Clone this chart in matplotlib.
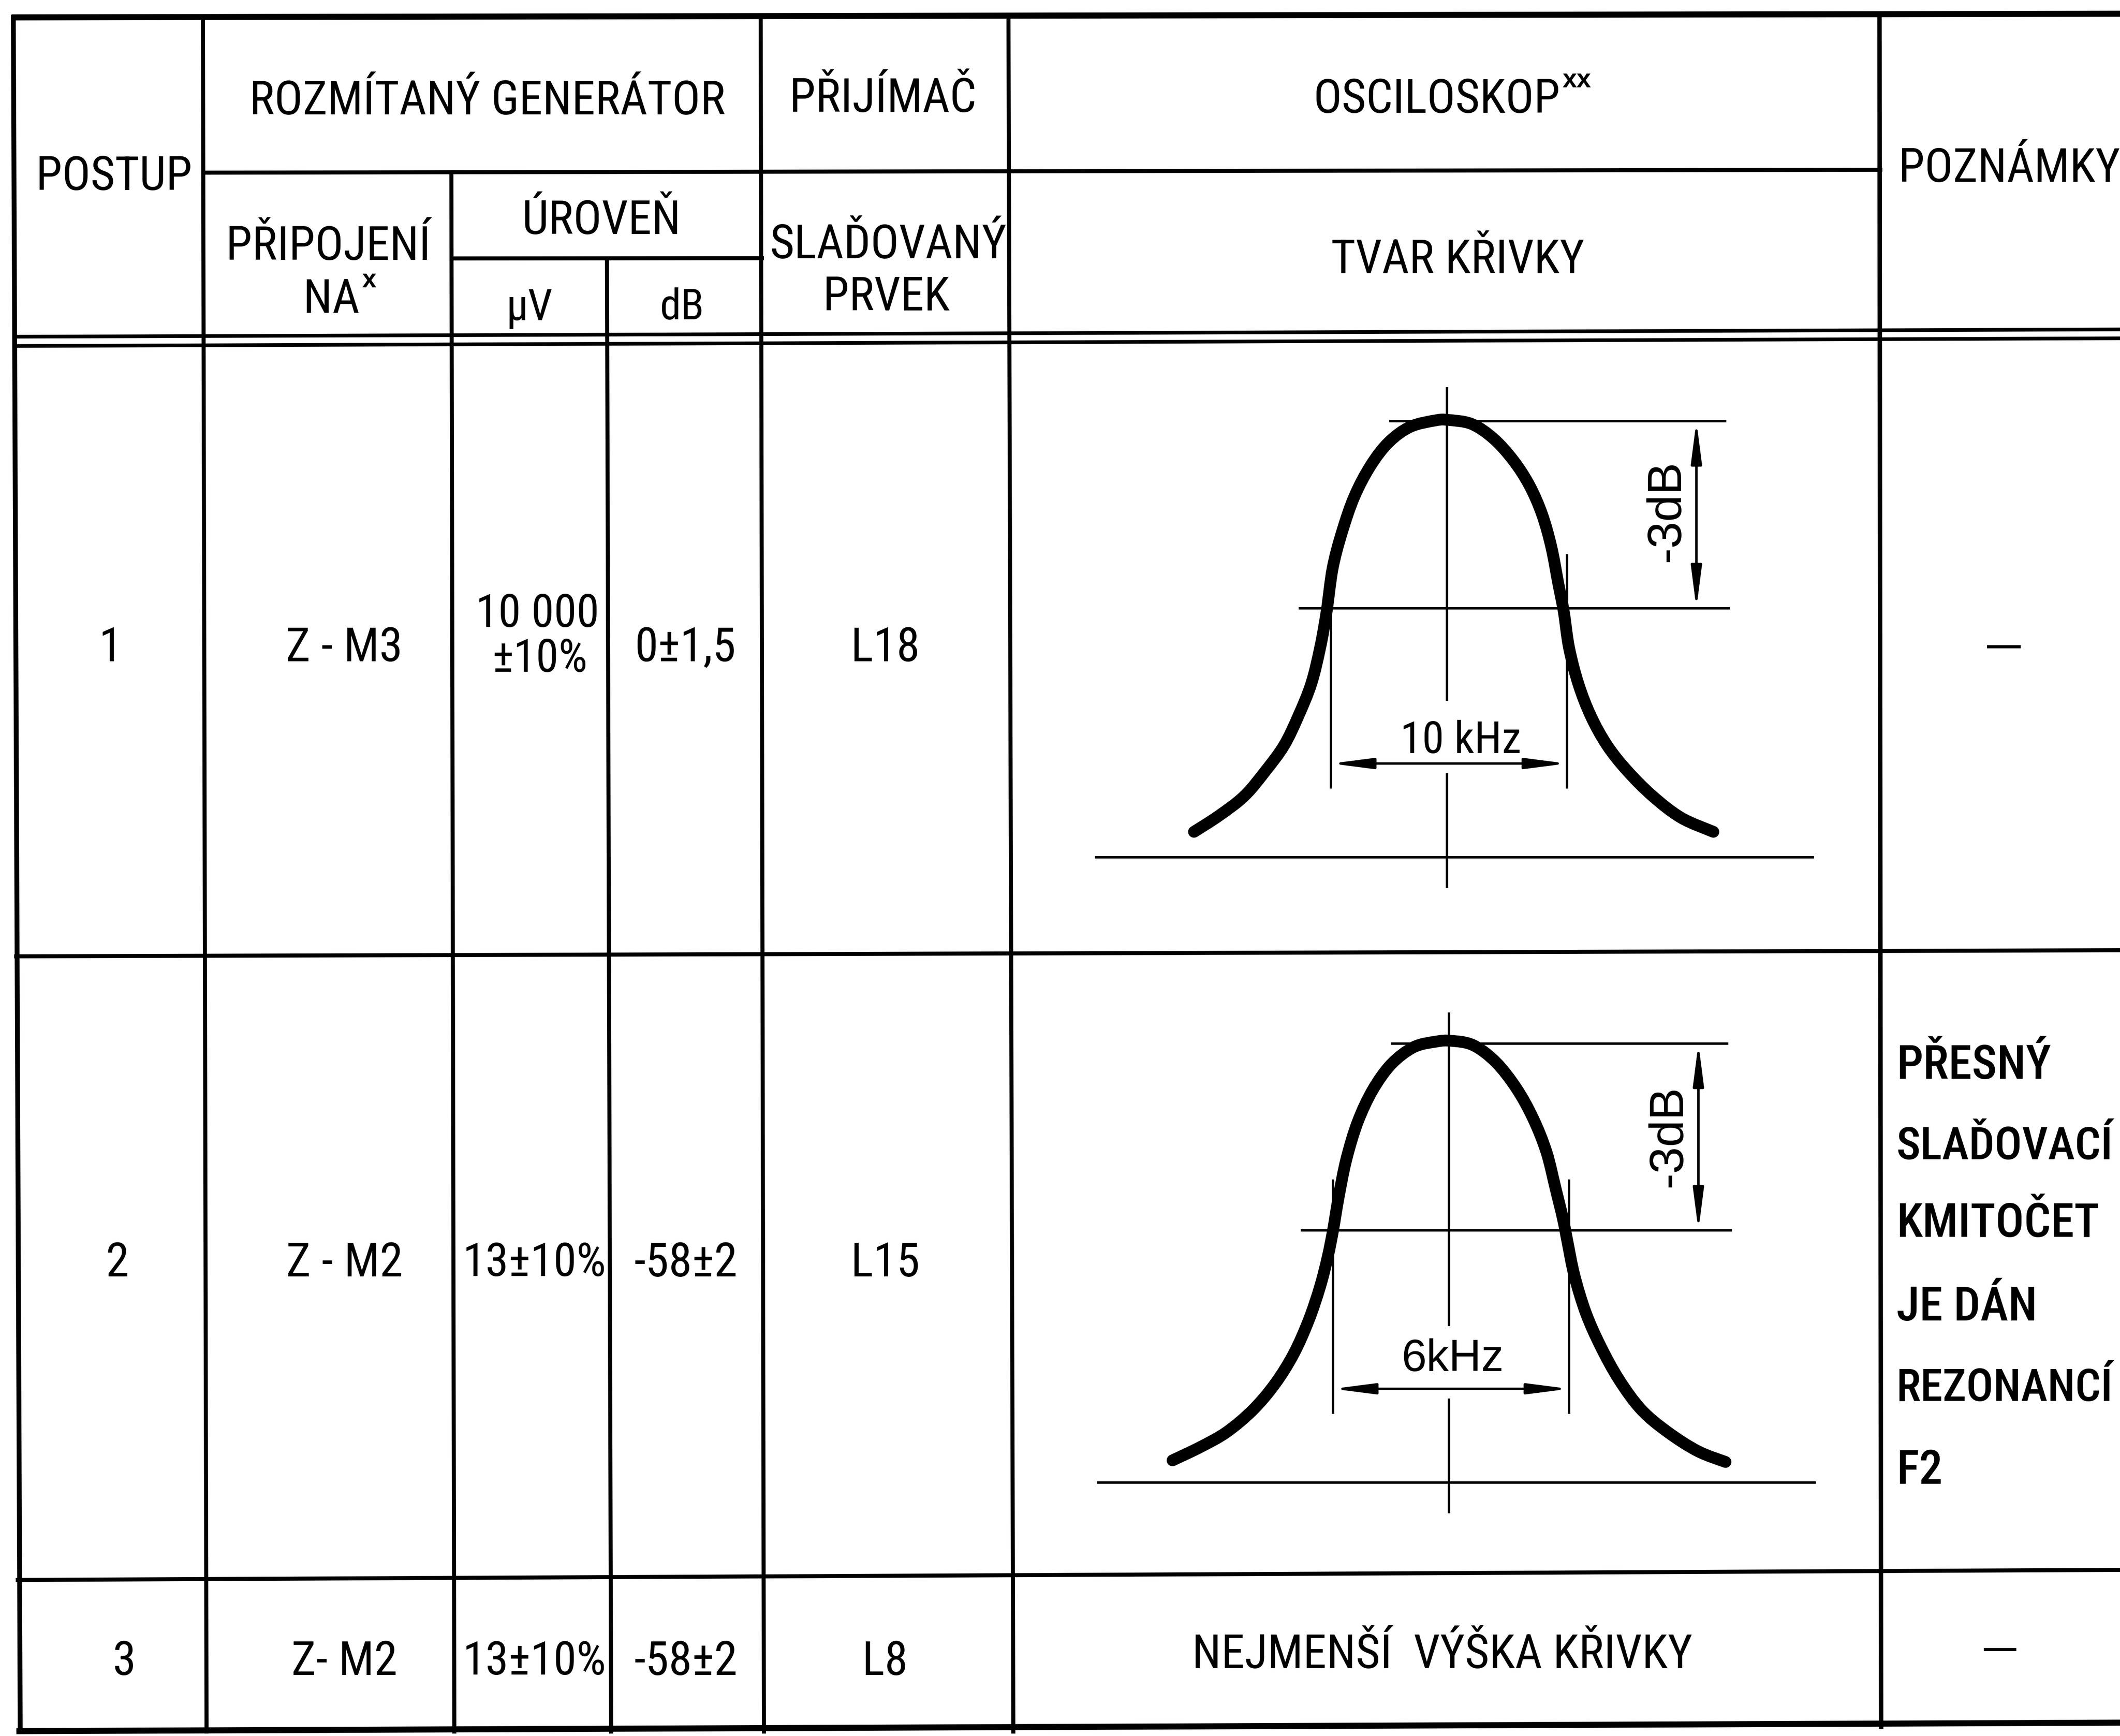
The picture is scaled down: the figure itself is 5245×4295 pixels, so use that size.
import matplotlib
matplotlib.use("Agg")
import matplotlib.pyplot as plt
import numpy as np
from matplotlib.patches import FancyArrowPatch, PathPatch
from matplotlib.path import Path

# ---------------- table content ----------------
head_top = ["ROZMÍTANÝ GENERÁTOR", "PŘIJÍMAČ", "OSCILOSKOP"]
head_sub = ["PŘIPOJENÍ", "NA", "ÚROVEŇ", "μV", "dB", "SLAĎOVANÝ", "PRVEK", "TVAR KŘIVKY"]

steps = ["1", "2", "3"]
connections = ["Z - M3", "Z - M2", "Z- M2"]
level_uv = [["10 000", "±10%"], ["13±10%"], ["13±10%"]]
level_db = ["0±1,5", "-58±2", "-58±2"]
tuned = ["L18", "L15", "L8"]
remarks2 = ["PŘESNÝ", "SLAĎOVACÍ", "KMITOČET", "JE DÁN", "REZONANCÍ", "F2"]
scope_row3 = "NEJMENŠÍ  VÝŠKA KŘIVKY"
bandwidths = ["10 kHz", "6kHz"]

# curve shapes read off the two sketches:
# offset from the centre line / height above the base line (drawing px)
curve1_dx = [-626, -564, -501, -448, -403, -368, -336, -314, -298, -283, -260, -229, -189, -144, -91, -28, 3,
             61, 115, 164, 204, 235, 258, 275, 289, 302, 325, 356, 396, 445, 508, 579, 659]
curve1_h = [63, 103, 152, 215, 277, 349, 429, 518, 607, 715, 804, 893, 969, 1027, 1065, 1081, 1082,
            1072, 1036, 982, 920, 849, 768, 679, 607, 518, 429, 349, 277, 215, 152, 98, 63]
curve2_dx = [-684, -615, -550, -485, -430, -384, -347, -319, -300, -287, -273, -254, -226, -189, -143, -88, -32, 5,
             60, 116, 167, 208, 241, 264, 282, 293, 310, 338, 375, 421, 476, 541, 615, 684]
curve2_h = [55, 88, 125, 180, 245, 319, 402, 485, 559, 624, 707, 800, 892, 971, 1035, 1077, 1091, 1093,
            1082, 1040, 975, 901, 818, 726, 652, 596, 513, 421, 337, 254, 180, 125, 78, 51]

# ---------------- figure ----------------
W, H, DPI = 5245, 4295, 100
PX = 72 / DPI          # points per pixel
fig = plt.figure(figsize=(W / DPI, H / DPI), dpi=DPI)
ax = fig.add_axes([0, 0, 1, 1])
ax.set_xlim(0, W)
ax.set_ylim(H, 0)
ax.axis("off")
renderer = fig.canvas.get_renderer()

FONT = ["Roboto Condensed", "Noto Sans Condensed", "Noto Sans SemiCondensed", "DejaVu Sans Condensed",
        "Liberation Sans Narrow", "Liberation Sans", "DejaVu Sans"]
WIDE = ["Liberation Sans", "DejaVu Sans"]
CAP = 0.716

# one common letter size: the scan uses a narrow lettering, so scale the size
# so that the widest heading keeps its width
_probe = ax.text(0, 0, head_top[0], fontsize=80, family=FONT)
BASE = min(84.0, 80.0 * 1202 / _probe.get_window_extent(renderer).width)
_probe.remove()


def label(x, yc, s, rel=1.0, ha="center", width=None, family=FONT, size=None, **kw):
    # yc is the middle of the capitals; width is the room left before a line / the edge
    size = size or BASE * rel
    t = ax.text(x, yc, s, fontsize=size, ha=ha, va="baseline", family=family, color="black", **kw)
    if width:
        w = t.get_window_extent(renderer).width
        if w > width:
            size = size * width / w
            t.set_fontsize(size)
    t.set_y(yc + CAP * size / PX / 2)
    return t


def sup(artist, s, size=46):
    ax.annotate(s, xy=(1.0, 1.0), xycoords=artist, xytext=(4, 16), textcoords="offset points",
                ha="left", va="top", fontsize=size, fontweight="bold", family=WIDE)


# the scan is slightly skewed, so lines are given by both ends
def vline(xt, xb, y0, y1, lw=10):
    f = lambda y: xt + (xb - xt) * (y - 40) / 4240
    ax.plot([f(y0), f(y1)], [y0, y1], color="k", lw=lw * PX, solid_capstyle="projecting")


def hline(yl, yr, x0, x1, lw=10):
    g = lambda x: yl + (yr - yl) * (x - 40) / 5205
    ax.plot([x0, x1], [g(x0), g(x1)], color="k", lw=lw * PX, solid_capstyle="projecting")


hline(43, 34, 36, W, lw=15)
hline(428, 419, 505, 4652)
hline(640, 637, 1118, 1885)
hline(833, 815, 36, W, lw=9)
hline(856, 837, 36, W, lw=9)
hline(2366, 2351, 40, W)
hline(3909, 3884, 44, W)
hline(4283, 4262, 48, W, lw=15)

vline(33, 50, 43, 4284, lw=12)
vline(502, 511, 43, 4284)
vline(1116, 1124, 428, 4284)
vline(1500, 1512, 640, 4284)
vline(1882, 1890, 43, 4284)
vline(2495, 2507, 43, 4284)
vline(4650, 4654, 40, 4272, lw=11)

# ---------------- header ----------------
label(282, 428, "POSTUP", width=440)
label(1206, 241, head_top[0], width=1330)
label(2184, 235, head_top[1], width=560)
osc = label(3555, 237, head_top[2])
sup(osc, "xx")
label(4697, 408, "POZNÁMKY", ha="left", width=560)
label(812, 601, head_sub[0], width=570)
na = label(820, 732, head_sub[1])
sup(na, "x")
label(1488, 537, head_sub[2], width=700)
label(1310, 753, head_sub[3], rel=0.93)
label(1687, 752, head_sub[4], rel=0.9)
label(2197, 597, head_sub[5], width=590)
label(2193, 726, head_sub[6], width=590)
label(3607, 634, head_sub[7])

# ---------------- rows ----------------
row_y = [1594, 3116, 4102]
step_x = [274, 290, 307]
for i in range(3):
    y = row_y[i]
    label(step_x[i], y, steps[i])
    label(852, y, connections[i], width=570)
    if len(level_uv[i]) == 2:
        label(1330, 1510, level_uv[i][0], rel=0.97, width=350)
        label(1335, 1621, level_uv[i][1], rel=0.97, width=350)
    else:
        label(1322, y, level_uv[i][0], width=355)
    label(1696, y, level_db[i], width=350)
    label(2190, y, tuned[i], width=560)

label(4958, 1592, "—", size=60, family=WIDE, fontweight="bold")
label(4948, 4074, "—", size=58, family=WIDE, fontweight="bold")
for line, y in zip(remarks2, [2627, 2828, 3018, 3225, 3426, 3629]):
    label(4692, y, line, ha="left", fontweight="medium", width=535)
label(3568, 4085, scope_row3, width=1800)

# ---------------- oscilloscope sketches ----------------
scopes = [
    dict(cx=3580, base=2121, peak=1079, half=616, dx=curve1_dx, h=curve1_h, bw=bandwidths[0],
         bw_dx=34, bw_h=297, bw_font=FONT),
    dict(cx=3585, base=3668, peak=1086, half=624, dx=curve2_dx, h=curve2_h, bw=bandwidths[1],
         bw_dx=9, bw_h=316, bw_font=WIDE),
]


def smooth_path(xs, ys):
    # Catmull-Rom through the read points, handed to matplotlib as cubic Bezier segments
    p = np.column_stack([xs, ys]).astype(float)
    verts, codes = [p[0]], [Path.MOVETO]
    for i in range(len(p) - 1):
        p0 = p[i - 1] if i > 0 else p[i]
        p3 = p[i + 2] if i + 2 < len(p) else p[i + 1]
        verts += [p[i] + (p[i + 1] - p0) / 6, p[i + 1] - (p3 - p[i]) / 6, p[i + 1]]
        codes += [Path.CURVE4] * 3
    return Path(verts, codes)


THIN = 6 * PX
for sc in scopes:
    cx, b = sc["cx"], sc["base"]
    # centre line with a gap for the bandwidth arrow
    ax.plot([cx, cx], [b - 1160, b - 390], color="k", lw=THIN)
    ax.plot([cx, cx], [b - 205, b + 73], color="k", lw=THIN)
    # reference lines
    ax.plot([cx - 868, cx + 905], [b, b], color="k", lw=THIN)
    ax.plot([cx - 140, cx + 688], [b - sc["peak"]] * 2, color="k", lw=THIN)
    ax.plot([cx - 364, cx + 697], [b - sc["half"]] * 2, color="k", lw=THIN)
    for ex in (-287, 297):
        ax.plot([cx + ex, cx + ex], [b - 747, b - 173], color="k", lw=THIN)
    # dimension arrows
    style = "<|-|>,head_length=62,head_width=8"
    ax.add_patch(FancyArrowPatch((cx - 287, b - 232), (cx + 297, b - 232), arrowstyle=style,
                                 mutation_scale=1, lw=THIN, color="k", shrinkA=0, shrinkB=0))
    ax.add_patch(FancyArrowPatch((cx + 617, b - sc["peak"]), (cx + 617, b - sc["half"]), arrowstyle=style,
                                 mutation_scale=1, lw=THIN, color="k", shrinkA=0, shrinkB=0))
    ax.text(cx + 544, b - 857, "-3dB", rotation=90, ha="center", va="center",
            fontsize=86, family=WIDE)
    label(cx + sc["bw_dx"], b - sc["bw_h"], sc["bw"], width=300, family=sc["bw_font"], size=80)
    # resonance curve
    ax.add_patch(PathPatch(smooth_path(cx + np.array(sc["dx"]), b - np.array(sc["h"])),
                           fill=False, color="k", lw=21, capstyle="round", joinstyle="round"))

fig.savefig("out.png", dpi=DPI, facecolor="white")
